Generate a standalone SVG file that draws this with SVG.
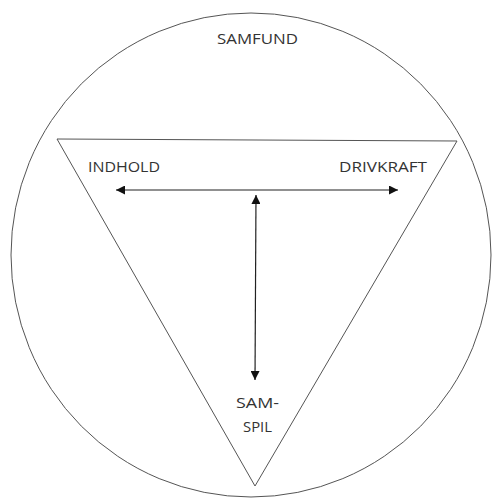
<svg xmlns="http://www.w3.org/2000/svg" width="495" height="501" viewBox="0 0 495 501">
<style>
.shape{fill:none;stroke:#555;stroke-width:1}
.lbl{font-family:"Open Sans","Noto Sans",sans-serif;font-size:14px;fill:#333}
.conn{stroke:#222;stroke-width:1.2;fill:none}
</style>
<defs>
<marker id="ah" viewBox="0 0 10 10" refX="10" refY="5" markerWidth="9" markerHeight="9" markerUnits="userSpaceOnUse" orient="auto-start-reverse">
<path d="M0,0 L10,5 L0,10 z" fill="#111"/>
</marker>
</defs>
<rect width="495" height="501" fill="#fff"/>
<g id="samfund">
<ellipse class="shape" cx="251" cy="255" rx="240" ry="242"/>
<text class="lbl" x="217" y="44" textLength="81" lengthAdjust="spacingAndGlyphs">SAMFUND</text>
</g>
<g id="triangle">
<polygon class="shape" points="57,139 457,141 255,486"/>
</g>
<g id="indhold">
<text class="lbl" x="88" y="172" textLength="72" lengthAdjust="spacingAndGlyphs">INDHOLD</text>
</g>
<g id="drivkraft">
<text class="lbl" x="339" y="172" textLength="88" lengthAdjust="spacingAndGlyphs">DRIVKRAFT</text>
</g>
<g id="samspil">
<text class="lbl" x="236" y="408" textLength="43" lengthAdjust="spacingAndGlyphs">SAM-</text>
<text class="lbl" x="243" y="432" textLength="29" lengthAdjust="spacingAndGlyphs">SPIL</text>
</g>
<g id="connectors">
<line class="conn" x1="116" y1="190" x2="398" y2="190" marker-start="url(#ah)" marker-end="url(#ah)"/>
<line class="conn" x1="256" y1="195" x2="255" y2="380" marker-start="url(#ah)" marker-end="url(#ah)"/>
</g>
</svg>
